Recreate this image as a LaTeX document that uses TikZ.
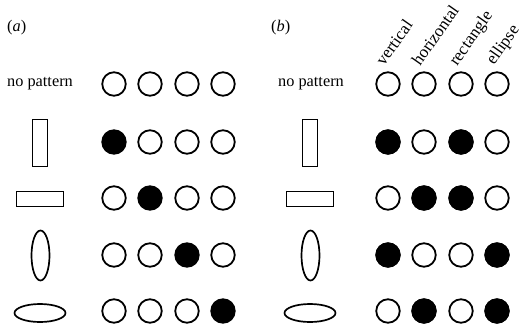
\documentclass[tikz,border=0pt]{standalone}
\usepackage{fontspec}
\setmainfont{Liberation Serif}
\usetikzlibrary{shapes.geometric}
\begin{document}
\begin{tikzpicture}[x=1pt,y=-1pt,
  unit/.style={circle,draw,line width=1.8pt,minimum size=23.5pt,inner sep=0pt},
  on/.style={unit,fill=black},
  off/.style={unit,fill=white},
  shp/.style={draw,line width=1.7pt,inner sep=0pt},
  lbl/.style={font=\fontsize{16.3}{19}\selectfont},
  collbl/.style={font=\fontsize{17}{20}\selectfont,rotate=55,anchor=base west,inner sep=0pt}]
\useasboundingbox (0,0) rectangle (524,324);
% panel labels
\node[lbl,anchor=west,inner sep=0pt] (pa) at (7,28) {(\textit{a})};
\node[lbl,anchor=west,inner sep=0pt] (pb) at (271,28) {(\textit{b})};
% row labels and shapes, panel a
\node[lbl,anchor=west,inner sep=0pt] (na) at (7,84) {no pattern};
\node[shp,rectangle,minimum width=15pt,minimum height=47pt] (va) at (40,143) {};
\node[shp,rectangle,minimum width=47pt,minimum height=15pt] (ha) at (40,199) {};
\node[shp,ellipse,minimum width=18pt,minimum height=50pt] (eva) at (40.5,255.5) {};
\node[shp,ellipse,minimum width=51pt,minimum height=18pt] (eha) at (40,313) {};
% panel b
\node[lbl,anchor=west,inner sep=0pt] (nb) at (278,84) {no pattern};
\node[shp,rectangle,minimum width=15pt,minimum height=47pt] (vb) at (310,143) {};
\node[shp,rectangle,minimum width=47pt,minimum height=15pt] (hb) at (310,199) {};
\node[shp,ellipse,minimum width=18pt,minimum height=50pt] (evb) at (310.5,255.5) {};
\node[shp,ellipse,minimum width=51pt,minimum height=18pt] (ehb) at (310,313) {};
% column labels
\node[collbl] (c1) at (384,67) {vertical};
\node[collbl] (c2) at (420,67) {horizontal};
\node[collbl] (c3) at (457,67) {rectangle};
\node[collbl] (c4) at (494,66) {ellipse};
% units panel a
\foreach \r/\y/\f in {0/84/0,1/142/1,2/198/2,3/255/3,4/311/4}{
  \foreach \c/\x in {1/114,2/150,3/187,4/223}{
    \ifnum\c=\f
      \node[on] (a\r\c) at (\x,\y) {};
    \else
      \node[off] (a\r\c) at (\x,\y) {};
    \fi
  }
}
% units panel b
\foreach \r/\y in {0/84,1/142,2/198,3/255,4/311}{
  \foreach \c/\x in {1/388,2/424,3/461,4/497}{
    \node[off] (b\r\c) at (\x,\y) {};
  }
}
\foreach \r/\c in {1/1,1/3,2/2,2/3,3/1,3/4,4/2,4/4}{
  \fill (b\r\c) circle (12.6pt);
}
\end{tikzpicture}
\end{document}
